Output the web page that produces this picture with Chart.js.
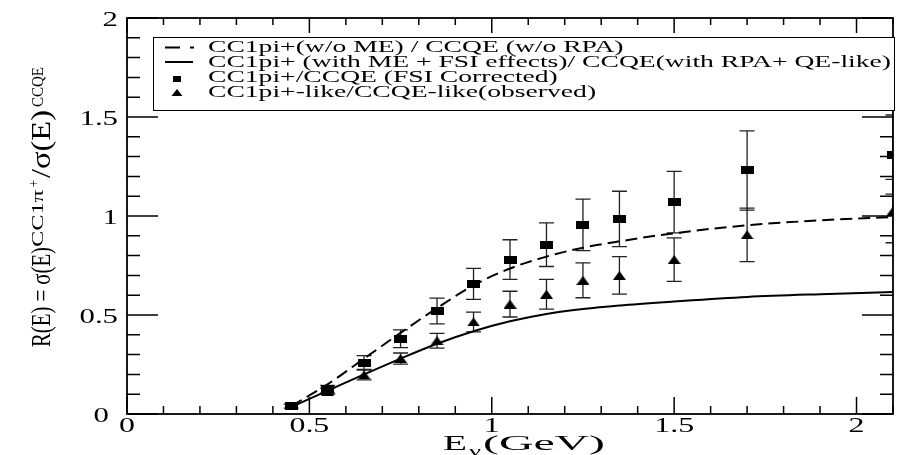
<!DOCTYPE html>
<html>
<head>
<meta charset="utf-8">
<title>CC1pi / CCQE ratio</title>
<script src="https://cdn.jsdelivr.net/npm/chart.js@4.4.1/dist/chart.umd.min.js"></script>
<style>
	html, body { margin: 0; padding: 0; background: #fff; }
	#wrap { width: 900px; height: 455px; }
</style>
</head>
<body>
<div id="wrap"><canvas id="ratioChart" width="900" height="455"></canvas></div>
<script>
// --- Data ---

// theory curves
const curveE = [0.45, 0.55, 0.65, 0.75, 0.85, 0.95, 1.05, 1.15, 1.25, 1.35, 1.5, 1.7, 1.9, 2.1];
const noMeRatio = [0.04, 0.15, 0.28, 0.41, 0.535, 0.65, 0.735, 0.795, 0.84, 0.872, 0.913, 0.953, 0.978, 0.995];
const withMeRatio = [0.035, 0.118, 0.2, 0.28, 0.355, 0.418, 0.468, 0.505, 0.53, 0.548, 0.568, 0.591, 0.605, 0.616];

// CC1pi+/CCQE (FSI corrected) - squares
const fsiE = [0.45, 0.55, 0.65, 0.75, 0.85, 0.95, 1.05, 1.15, 1.25, 1.35, 1.5, 1.7, 2.1];
const fsiRatio = [0.04, 0.125, 0.26, 0.38, 0.52, 0.657, 0.78, 0.855, 0.955, 0.985, 1.07, 1.23, 1.31];
const fsiErr = [0.01, 0.02, 0.035, 0.045, 0.065, 0.078, 0.10, 0.11, 0.13, 0.14, 0.155, 0.20, 0.20];

// CC1pi+-like/CCQE-like (observed) - triangles
const obsE = [0.55, 0.65, 0.75, 0.85, 0.95, 1.05, 1.15, 1.25, 1.35, 1.5, 1.7, 2.1];
const obsRatio = [0.115, 0.197, 0.28, 0.37, 0.465, 0.555, 0.605, 0.675, 0.70, 0.78, 0.905, 1.025];
const obsErr = [0.015, 0.025, 0.028, 0.037, 0.05, 0.065, 0.075, 0.088, 0.095, 0.11, 0.135, 0.16];

const xTickLabels = [0, 0.5, 1, 1.5, 2];
const yTickLabels = [0, 0.5, 1, 1.5, 2];
const legendLabels = [
	"CC1pi+(w/o ME) / CCQE (w/o RPA)",
	"CC1pi+ (with ME + FSI effects)/ CCQE(with RPA+ QE-like)",
	"CC1pi+/CCQE (FSI Corrected)",
	"CC1pi+-like/CCQE-like(observed)"
];

const SERIF = '"Liberation Serif", "Times New Roman", serif';

// the original is stretched sideways, so markers are wider than tall
function makeMarker(w, h, shape) {
	const c = document.createElement("canvas");
	c.width = w;
	c.height = h;
	const g = c.getContext("2d");
	g.fillStyle = "#000";
	if (shape === "rect") {
		g.fillRect(0, 0, w, h);
	} else {
		g.beginPath();
		g.moveTo(w / 2, 0);
		g.lineTo(w, h);
		g.lineTo(0, h);
		g.closePath();
		g.fill();
	}
	return c;
}
const squareMark = makeMarker(13, 8, "rect");
const triangleMark = makeMarker(13, 9, "tri");

function toPoints(xs, ys) {
	return xs.map((x, i) => ({ x: x, y: ys[i] }));
}

// text drawn with a horizontal stretch (x0 .. x1 on screen)
function fitText(ctx, str, font, x0, x1, baseline) {
	ctx.save();
	ctx.font = font;
	const w = ctx.measureText(str).width;
	ctx.translate(x0, baseline);
	ctx.scale((x1 - x0) / w, 1);
	ctx.textAlign = "left";
	ctx.textBaseline = "alphabetic";
	ctx.fillText(str, 0, 0);
	ctx.restore();
}

function stretchText(ctx, str, x, y, sx, align) {
	ctx.save();
	ctx.translate(x, y);
	ctx.scale(sx, 1);
	ctx.textAlign = align;
	ctx.textBaseline = "alphabetic";
	ctx.fillText(str, 0, 0);
	ctx.restore();
}

// rotated text piece running upwards from yStart to yEnd, baseline at baseX
function vertText(ctx, str, font, baseX, yStart, yEnd, sPerp) {
	ctx.save();
	ctx.font = font;
	const w = ctx.measureText(str).width;
	ctx.translate(baseX, yStart);
	ctx.rotate(-Math.PI / 2);
	ctx.scale((yStart - yEnd) / w, sPerp);
	ctx.textAlign = "left";
	ctx.textBaseline = "alphabetic";
	ctx.fillText(str, 0, 0);
	ctx.restore();
}

// --- Error bars (drawn under the markers) ---
const errorBars = {
	id: "errorBars",
	beforeDatasetsDraw(chart) {
		const { ctx, chartArea: a, scales: { x, y } } = chart;
		ctx.save();
		ctx.beginPath();
		ctx.rect(a.left, a.top, a.right - a.left, a.bottom - a.top);
		ctx.clip();
		ctx.strokeStyle = "#222";
		ctx.lineWidth = 1.3;
		const sets = [[fsiE, fsiRatio, fsiErr], [obsE, obsRatio, obsErr]];
		sets.forEach(([xs, ys, es]) => {
			xs.forEach((e, i) => {
				const px = x.getPixelForValue(e);
				const top = y.getPixelForValue(ys[i] + es[i]);
				const bot = y.getPixelForValue(ys[i] - es[i]);
				ctx.beginPath();
				ctx.moveTo(px, top);
				ctx.lineTo(px, bot);
				ctx.moveTo(px - 7.5, top);
				ctx.lineTo(px + 7.5, top);
				ctx.moveTo(px - 7.5, bot);
				ctx.lineTo(px + 7.5, bot);
				ctx.stroke();
			});
		});
		ctx.restore();
	}
};

// --- Frame, inward ticks, labels, titles, legend ---
const frame = {
	id: "frame",
	afterDraw(chart) {
		const { ctx, chartArea: a, scales: { x, y } } = chart;
		ctx.save();
		ctx.strokeStyle = "#000";
		ctx.fillStyle = "#000";

		// ticks (minor every 0.1)
		ctx.lineWidth = 1.5;
		ctx.beginPath();
		for (let k = 0; k <= 21; k++) {
			const v = k / 10;
			const major = k % 5 === 0;
			const px = x.getPixelForValue(v);
			ctx.moveTo(px, a.bottom);
			ctx.lineTo(px, a.bottom - (major ? 17 : 8));
			ctx.moveTo(px, a.top);
			ctx.lineTo(px, a.top + (major ? 15 : 7));
		}
		for (let k = 0; k <= 20; k++) {
			const v = k / 10;
			const major = k % 5 === 0;
			const py = y.getPixelForValue(v);
			const len = major ? 31 : 13;
			ctx.moveTo(a.left, py);
			ctx.lineTo(a.left + len, py);
			ctx.moveTo(a.right, py);
			ctx.lineTo(a.right - len, py);
		}
		ctx.stroke();

		// box
		ctx.lineWidth = 1.8;
		ctx.strokeRect(a.left, a.top, a.right - a.left, a.bottom - a.top);

		// tick labels
		ctx.font = "22px " + SERIF;
		xTickLabels.forEach((v) => {
			stretchText(ctx, String(v), x.getPixelForValue(v), 432, 1.45, "center");
		});
		yTickLabels.forEach((v) => {
			const dx = v === 0 ? -9 : 0;
			stretchText(ctx, String(v), 118 + dx, y.getPixelForValue(v) + 7.5, 1.4, "right");
		});

		// x title: E_nu (GeV)
		fitText(ctx, "E", "20px " + SERIF, 443, 467, 450);
		fitText(ctx, "\u03bd", "15px " + SERIF, 469, 481, 456);
		fitText(ctx, "(GeV)", "20px " + SERIF, 483, 605, 450);

		// y title: R(E) = sigma(E)^{CC1pi+} / sigma(E)^{CCQE}
		vertText(ctx, "R(E) = \u03c3(E)", "21px " + SERIF, 50, 347, 247, 1.25);
		vertText(ctx, "CC1\u03c0", "14px " + SERIF, 43, 247, 190, 1.25);
		vertText(ctx, "+", "12px " + SERIF, 38, 187, 180, 1.25);
		vertText(ctx, "/\u03c3(E)", "21px " + SERIF, 50, 178, 110, 1.25);
		vertText(ctx, "CCQE", "14px " + SERIF, 43, 107, 67, 1.25);

		// legend
		const bx = 153.5, by = 37.5, bw = 741, bh = 73;
		ctx.fillStyle = "#fff";
		ctx.fillRect(bx, by, bw, bh);
		ctx.lineWidth = 1;
		ctx.strokeStyle = "#000";
		ctx.strokeRect(bx, by, bw, bh);
		ctx.fillStyle = "#000";

		ctx.font = "16px " + SERIF;
		const sx = (891 - 208) / ctx.measureText(legendLabels[1]).width;
		const rows = [52, 67, 82, 97];
		legendLabels.forEach((t, i) => stretchText(ctx, t, 208, rows[i], sx, "left"));

		ctx.lineWidth = 2;
		ctx.beginPath();
		ctx.moveTo(165, 47.5);
		ctx.lineTo(180, 47.5);
		ctx.moveTo(190, 47.5);
		ctx.lineTo(194, 47.5);
		ctx.moveTo(165, 62);
		ctx.lineTo(193, 62);
		ctx.stroke();
		ctx.fillRect(173, 76, 8, 6);
		ctx.beginPath();
		ctx.moveTo(177, 89);
		ctx.lineTo(182.5, 96);
		ctx.lineTo(171.5, 96);
		ctx.closePath();
		ctx.fill();

		ctx.restore();
	}
};

document.addEventListener("DOMContentLoaded", function () {
	const canvas = document.getElementById("ratioChart");
	new Chart(canvas.getContext("2d"), {
		type: "scatter",
		data: {
			datasets: [
				{
					label: legendLabels[0],
					data: toPoints(curveE, noMeRatio),
					showLine: true,
					borderColor: "#000",
					borderWidth: 2,
					borderDash: [12, 6],
					pointRadius: 0,
					cubicInterpolationMode: "monotone",
					clip: 0
				},
				{
					label: legendLabels[1],
					data: toPoints(curveE, withMeRatio),
					showLine: true,
					borderColor: "#000",
					borderWidth: 2,
					pointRadius: 0,
					cubicInterpolationMode: "monotone",
					clip: 0
				},
				{
					label: legendLabels[2],
					data: toPoints(fsiE, fsiRatio),
					pointStyle: squareMark,
					pointRadius: 6,
					clip: 0
				},
				{
					label: legendLabels[3],
					data: toPoints(obsE, obsRatio),
					pointStyle: triangleMark,
					pointRadius: 6,
					clip: 0
				}
			]
		},
		options: {
			responsive: false,
			animation: false,
			events: [],
			layout: { padding: { left: 127, right: 2, top: 18, bottom: 41 } },
			scales: {
				x: { type: "linear", min: 0, max: 2.1, display: false },
				y: { type: "linear", min: 0, max: 2, display: false }
			},
			plugins: {
				legend: { display: false },
				tooltip: { enabled: false }
			}
		},
		plugins: [errorBars, frame]
	});
});
</script>
</body>
</html>
